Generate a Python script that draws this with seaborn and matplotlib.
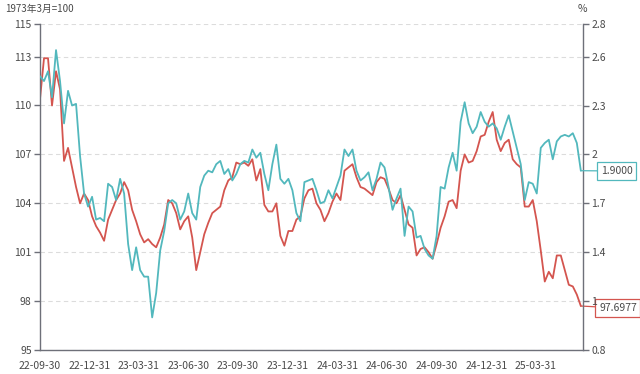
import matplotlib
matplotlib.use("Agg")
import matplotlib.pyplot as plt
import seaborn as sns
import pandas as pd
import numpy as np

# ---------------- data ----------------
start_date = "2022-09-30"
end_date = "2025-06-23"

index_values = [
    110.4, 112.9, 112.9, 110.0, 112.1, 111.0, 106.6, 107.4, 106.2, 105.0,
    104.0, 104.6, 104.2, 103.2, 102.6, 102.2, 101.7, 103.0, 103.6, 104.2,
    104.6, 105.3, 104.8, 103.6, 102.9, 102.1, 101.6, 101.8, 101.5, 101.3,
    101.9, 102.7, 104.2, 104.0, 103.4, 102.4, 102.9, 103.2, 101.9, 99.9,
    101.0, 102.1, 102.8, 103.4, 103.6, 103.8, 104.8, 105.4, 105.6, 106.5,
    106.4, 106.5, 106.3, 106.7, 105.4, 106.1, 103.9, 103.5, 103.5, 104.0,
    102.0, 101.4, 102.3, 102.3, 103.0, 103.2, 104.3, 104.8, 104.9, 104.0,
    103.6, 102.9, 103.4, 104.1, 104.6, 104.2, 106.0, 106.2, 106.4, 105.6,
    105.0, 104.9, 104.7, 104.5, 105.3, 105.6, 105.5, 104.9, 104.2, 104.0,
    104.5, 103.6, 102.7, 102.5, 100.8, 101.2, 101.3, 101.0, 100.6, 101.5,
    102.5, 103.2, 104.1, 104.2, 103.7, 106.0, 107.0, 106.5, 106.6, 107.2,
    108.1, 108.2, 109.0, 109.6, 107.9, 107.2, 107.7, 107.9, 106.7, 106.4,
    106.2, 103.8, 103.8, 104.2, 102.9, 101.1, 99.2, 99.8, 99.4, 100.8,
    100.8, 99.9, 99.0, 98.9, 98.4, 97.6977,
]

rate_values = [
    2.48, 2.45, 2.51, 2.35, 2.64, 2.45, 2.19, 2.39, 2.30, 2.31,
    1.99, 1.76, 1.68, 1.74, 1.60, 1.61, 1.59, 1.82, 1.80, 1.72,
    1.85, 1.76, 1.45, 1.29, 1.43, 1.29, 1.25, 1.25, 1.00, 1.15,
    1.41, 1.53, 1.70, 1.72, 1.70, 1.60, 1.65, 1.76, 1.64, 1.60,
    1.80, 1.87, 1.90, 1.89, 1.94, 1.96, 1.88, 1.91, 1.84, 1.88,
    1.94, 1.96, 1.95, 2.03, 1.98, 2.01, 1.88, 1.78, 1.94, 2.06,
    1.85, 1.82, 1.85, 1.78, 1.64, 1.59, 1.83, 1.84, 1.85, 1.78,
    1.70, 1.71, 1.78, 1.73, 1.80, 1.87, 2.03, 1.99, 2.03, 1.90,
    1.84, 1.86, 1.89, 1.78, 1.85, 1.95, 1.92, 1.80, 1.66, 1.73,
    1.79, 1.50, 1.68, 1.65, 1.49, 1.50, 1.42, 1.38, 1.36, 1.50,
    1.80, 1.79, 1.92, 2.01, 1.90, 2.20, 2.32, 2.19, 2.13, 2.17,
    2.26, 2.20, 2.17, 2.19, 2.16, 2.09, 2.17, 2.24, 2.14, 2.04,
    1.94, 1.72, 1.83, 1.82, 1.76, 2.04, 2.07, 2.09, 1.97, 2.08,
    2.11, 2.12, 2.11, 2.13, 2.07, 1.90,
]

x_tick_dates = ["2022-09-30", "2022-12-31", "2023-03-31", "2023-06-30",
                "2023-09-30", "2023-12-31", "2024-03-31", "2024-06-30",
                "2024-09-30", "2024-12-31", "2025-03-31"]
x_tick_labels = ["22-09-30", "22-12-31", "23-03-31", "23-06-30", "23-09-30",
                 "23-12-31", "24-03-31", "24-06-30", "24-09-30", "24-12-31",
                 "25-03-31"]
left_ticks = [95, 98, 101, 104, 107, 110, 113, 115]
right_ticks = [0.8, 1.1, 1.4, 1.7, 2.0, 2.3, 2.6, 2.8]
right_tick_labels = ["0.8", "1", "1.4", "1.7", "2", "2.3", "2.6", "2.8"]
left_unit = "1973年3月=100"
right_unit = "%"

# ---------------- style ----------------
sns.set_theme(style="white")
plt.rcParams["font.family"] = ["Noto Sans CJK SC", "DejaVu Sans"]

RED = "#d4554f"
CYAN = "#52b8bd"
AXIS = "#6e7079"
TEXT = "#4a4a4a"

dates = pd.date_range(start_date, end_date, periods=len(index_values))
df = pd.DataFrame({"date": dates, "index": index_values, "rate": rate_values})

fig = plt.figure(figsize=(6.4, 3.74), dpi=100)
ax = fig.add_axes([40 / 640, 24 / 374, 543 / 640, 326 / 374])
ax2 = ax.twinx()

sns.lineplot(data=df, x="date", y="index", ax=ax, color=RED, linewidth=1.3)
sns.lineplot(data=df, x="date", y="rate", ax=ax2, color=CYAN, linewidth=1.3)

ax.set_xlim(pd.Timestamp("2022-09-30"), pd.Timestamp("2025-06-27"))
ax.set_ylim(95, 115)
ax2.set_ylim(0.8, 2.8)

ax.set_yticks(left_ticks)
ax.set_yticklabels([str(t) for t in left_ticks])
ax2.set_yticks(right_ticks)
ax2.set_yticklabels(right_tick_labels)
ax.set_xticks(pd.to_datetime(x_tick_dates))
ax.set_xticklabels(x_tick_labels)

for a in (ax, ax2):
    a.set_xlabel("")
    a.set_ylabel("")
    a.spines["top"].set_visible(False)
    for s in ("left", "right", "bottom"):
        a.spines[s].set_color(AXIS)
        a.spines[s].set_linewidth(1.0)
    a.tick_params(axis="both", colors=AXIS, labelcolor=TEXT, labelsize=7.5,
                  length=4, width=1, direction="out", pad=2)

ax.spines["right"].set_visible(False)
ax2.spines["left"].set_visible(False)
ax2.spines["bottom"].set_visible(False)
ax.tick_params(axis="x", length=5, pad=3)

ax.yaxis.grid(True, linestyle=(0, (4, 3)), color="#dcdcdc", linewidth=0.8)
ax.set_axisbelow(True)

fig.text(5 / 640, 1 - 9 / 374, left_unit, fontsize=7, color=TEXT,
         ha="left", va="center")
fig.text(582 / 640, 1 - 9 / 374, right_unit, fontsize=7.5, color=TEXT,
         ha="center", va="center")

# end-value callouts
last_date = df["date"].iloc[-1]
ax2.annotate(f"{rate_values[-1]:.4f}", xy=(last_date, rate_values[-1]),
             xycoords="data", xytext=(601 / 640, 1 - 171 / 374),
             textcoords="figure fraction", fontsize=7.5, color=TEXT,
             ha="left", va="center",
             bbox=dict(boxstyle="square,pad=0.35", fc="white", ec=CYAN, lw=0.9),
             arrowprops=dict(arrowstyle="-", color=CYAN, lw=0.9,
                             shrinkA=0, shrinkB=0))
ax.annotate(f"{index_values[-1]:.4f}", xy=(last_date, index_values[-1]),
            xycoords="data", xytext=(599 / 640, 1 - 308 / 374),
            textcoords="figure fraction", fontsize=7.5, color=TEXT,
            ha="left", va="center",
            bbox=dict(boxstyle="square,pad=0.35", fc="white", ec=RED, lw=0.9),
            arrowprops=dict(arrowstyle="-", color=RED, lw=0.9,
                            shrinkA=0, shrinkB=0))

fig.savefig("out.png", dpi=100)
